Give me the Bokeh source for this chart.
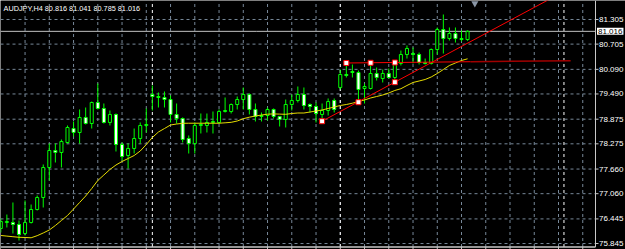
from bokeh.plotting import figure
from bokeh.models import Range1d, Label
from bokeh.embed import file_html
from bokeh.resources import INLINE
from bokeh.core.properties import value

# ---------------- data ----------------
chart_title = "AUDJPY,H4 80.816 81.041 80.785 81.016"

opens = [76.211, 76.357, 76.357, 76.309, 76.089, 76.357, 76.674, 76.967, 77.698, 78.112,
         78.064, 78.307, 78.648, 78.551, 78.917, 78.770, 79.282, 79.136, 78.795, 78.990,
         78.258, 77.990, 78.161, 78.405, 78.722, 79.477, 79.428, 79.404, 79.355, 78.990,
         78.892, 78.405, 78.283, 78.722, 78.722, 78.795, 78.795, 79.063, 79.063, 79.233,
         79.355, 79.477, 79.112, 78.941, 78.965, 79.112, 78.941, 78.868, 79.233, 79.331,
         79.477, 79.233, 79.185, 78.990, 79.087, 79.331, 79.648, 79.965, 80.038, 80.013,
         79.623, 79.623, 79.989, 79.867, 79.989, 79.891, 80.233, 80.452, 80.476, 80.452,
         80.257, 80.233, 80.574, 81.061, 80.842, 80.964, 80.842, 80.816]
highs = [76.455, 76.552, 76.845, 76.406, 76.894, 76.796, 77.016, 77.771, 78.283, 78.283,
         78.380, 78.722, 78.819, 79.112, 79.160, 79.306, 79.745, 79.258, 79.087, 79.014,
         78.307, 78.283, 78.648, 78.795, 79.136, 79.696, 79.526, 79.550, 79.453, 79.258,
         78.917, 78.478, 78.795, 79.014, 79.014, 79.063, 79.112, 79.404, 79.258, 79.428,
         79.648, 79.501, 79.258, 79.038, 79.160, 79.136, 78.941, 79.355, 79.477, 79.672,
         79.648, 79.258, 79.282, 79.258, 79.380, 79.380, 80.086, 80.245, 80.208, 80.062,
         79.745, 80.250, 80.135, 80.086, 80.111, 80.257, 80.549, 80.671, 80.623, 80.501,
         80.354, 80.598, 81.110, 81.427, 81.110, 81.110, 81.037, 81.041]
lows = [76.114, 76.236, 76.089, 75.919, 76.041, 76.333, 76.650, 76.723, 77.381, 77.820,
        77.698, 78.283, 78.453, 78.283, 78.746, 78.648, 79.112, 78.770, 78.722, 78.088,
        77.869, 77.674, 78.039, 78.283, 78.551, 79.087, 79.160, 79.160, 78.795, 78.770,
        78.307, 78.039, 78.039, 78.527, 78.551, 78.527, 78.770, 79.038, 79.014, 79.112,
        79.112, 78.990, 78.819, 78.819, 78.843, 78.892, 78.697, 78.673, 79.087, 79.282,
        79.112, 79.038, 78.795, 78.826, 78.965, 79.038, 79.599, 79.891, 79.891, 79.289,
        79.258, 79.599, 79.818, 79.770, 79.867, 79.777, 80.184, 80.354, 80.233, 80.208,
        80.208, 80.208, 80.452, 80.476, 80.793, 80.744, 80.769, 80.785]
closes = [76.382, 76.382, 76.309, 76.065, 76.357, 76.674, 76.967, 77.698, 78.112, 78.064,
          78.332, 78.673, 78.551, 78.917, 78.770, 79.282, 79.136, 78.795, 78.990, 78.258,
          77.966, 78.161, 78.405, 78.722, 78.746, 79.428, 79.404, 79.355, 78.990, 78.892,
          78.380, 78.283, 78.722, 78.746, 78.795, 78.819, 79.063, 79.087, 79.233, 79.355,
          79.477, 79.112, 78.941, 78.965, 79.112, 78.941, 78.868, 79.233, 79.331, 79.477,
          79.209, 79.185, 79.014, 79.087, 79.306, 79.112, 79.965, 79.940, 80.013, 79.599,
          79.672, 79.989, 79.891, 79.989, 79.891, 80.240, 80.452, 80.598, 80.452, 80.257,
          80.233, 80.574, 81.061, 80.842, 80.964, 80.842, 80.816, 81.016]
ma_values = [76.041, 76.026, 76.011, 75.997, 75.992, 75.985, 76.036, 76.102, 76.175, 76.284,
             76.406, 76.528, 76.686, 76.845, 77.003, 77.186, 77.381, 77.515, 77.649, 77.759,
             77.844, 77.917, 77.990, 78.100, 78.258, 78.429, 78.563, 78.648, 78.734, 78.758,
             78.775, 78.777, 78.777, 78.777, 78.777, 78.777, 78.777, 78.787, 78.799, 78.831,
             78.887, 78.924, 78.953, 78.977, 78.997, 79.004, 78.999, 78.994, 79.014, 79.026,
             79.026, 79.050, 79.075, 79.099, 79.136, 79.172, 79.209, 79.233, 79.265, 79.306,
             79.343, 79.392, 79.428, 79.465, 79.514, 79.575, 79.618, 79.696, 79.770, 79.806,
             79.843, 79.904, 79.989, 80.086, 80.184, 80.245, 80.306, 80.347]
bar_index = list(range(len(opens)))

price_ticks = [81.305, 80.705, 80.090, 79.490, 78.875, 78.275, 77.660, 77.060, 76.445, 75.845]
price_labels = ["81.305", "80.705", "80.090", "79.490", "78.875", "78.275", "77.660", "77.060", "76.445", "75.845"]
bid_price = 81.016
bid_label = "81.016"

trend_idx = [53, 59, 65]
trend_px = [78.826, 79.289, 79.777]
level_idx = [57, 61, 65]
level_px = [80.245, 80.250, 80.257]
week_sep_idx = [25, 56, 92.9]
grid_every = 4
shift_marker_idx = 78.2

# ---------------- layout ----------------
W, H = 625, 249
BAR_PX = 6.062                      # pixels per bar
PPX = 0.024372                      # price per pixel
X0 = -0.05
X1 = X0 + W / BAR_PX
Y1 = 81.768
Y0 = Y1 - H * PPX
PLOT_RIGHT = X0 + 595 / BAR_PX      # right edge of the price area
PLOT_BOTTOM = Y1 - 246.5 * PPX      # bottom edge of the price area

p = figure(width=W, height=H, output_backend="svg", toolbar_location=None,
           x_range=Range1d(X0, X1), y_range=Range1d(Y0, Y1),
           x_axis_location=None, y_axis_location=None,
           min_border_left=0, min_border_top=0, min_border_bottom=0, min_border_right=0,
           background_fill_color="black", border_fill_color="black")
p.outline_line_color = None
p.grid.visible = False

grid_col = "#778899"
border_col = "#c8c8c8"
vticks = list(range(grid_every, int(PLOT_RIGHT) + 1, grid_every))

# grid
p.segment(x0=[X0] * len(price_ticks), x1=[PLOT_RIGHT] * len(price_ticks), y0=price_ticks, y1=price_ticks,
          line_color=grid_col, line_dash="3 3", line_width=1)
p.segment(x0=vticks, x1=vticks, y0=[PLOT_BOTTOM] * len(vticks), y1=[Y1] * len(vticks),
          line_color=grid_col, line_dash="3 3", line_width=1)
# week separators
p.segment(x0=week_sep_idx, x1=week_sep_idx, y0=[PLOT_BOTTOM] * len(week_sep_idx), y1=[Y1] * len(week_sep_idx),
          line_color="white", line_dash="3 3", line_width=1)
# borders and ticks
p.line([PLOT_RIGHT, PLOT_RIGHT], [PLOT_BOTTOM, Y1], line_color=border_col, line_width=1)
p.line([X0, PLOT_RIGHT], [PLOT_BOTTOM, PLOT_BOTTOM], line_color=border_col, line_width=1.5)
p.segment(x0=[PLOT_RIGHT] * len(price_ticks), x1=[PLOT_RIGHT + 3 / BAR_PX] * len(price_ticks),
          y0=price_ticks, y1=price_ticks, line_color=border_col, line_width=1)
p.segment(x0=vticks, x1=vticks, y0=[PLOT_BOTTOM] * len(vticks), y1=[Y0] * len(vticks),
          line_color=border_col, line_width=1)

# bid line
p.line([X0, PLOT_RIGHT], [bid_price, bid_price], line_color="#c0c0c0", line_width=1)

# candles
tops = [max(o, c) for o, c in zip(opens, closes)]
bots = [min(o, c) for o, c in zip(opens, closes)]
fills = ["black" if c >= o else "white" for o, c in zip(opens, closes)]
p.segment(x0=bar_index, y0=lows, x1=bar_index, y1=highs, line_color="#00ff00", line_width=1)
p.vbar(x=bar_index, top=tops, bottom=bots, width=0.5, fill_color=fills, line_color="#00ff00", line_width=1)

# moving average
p.line(bar_index, ma_values, line_color="#e6dc00", line_width=1)

# trend line through anchors
slope_t = (trend_px[-1] - trend_px[0]) / (trend_idx[-1] - trend_idx[0])
t_end = 92
p.line([trend_idx[0], t_end], [trend_px[0], trend_px[0] + slope_t * (t_end - trend_idx[0])],
       line_color="#ff0000", line_width=1)

# level line
slope_l = (level_px[-1] - level_px[0]) / (level_idx[-1] - level_idx[0])
l_mid, l_end = 77.5, 94
y_mid = level_px[0] + slope_l * (l_mid - level_idx[0])
p.line([level_idx[0], l_mid], [level_px[0], y_mid], line_color="#ff0000", line_width=1)
p.line([l_mid, l_end], [y_mid, level_px[0] + slope_l * (l_end - level_idx[0])],
       line_color="#a00000", line_width=1.5)

p.scatter(trend_idx + level_idx, trend_px + level_px, marker="square", size=5,
          fill_color="white", line_color="#ff0000", line_width=1)

p.scatter([shift_marker_idx], [Y1 - 0.07], marker="inverted_triangle", size=7,
          fill_color="#8a96a6", line_color=None)

# price axis labels
p.text(x=[PLOT_RIGHT + 3.5 / BAR_PX] * len(price_ticks), y=price_ticks, text=price_labels,
       text_color="white", text_font=value("Liberation Sans"), text_font_size="8px",
       text_align="left", text_baseline="middle")

# bid box
p.add_layout(Label(x=PLOT_RIGHT + 1.5 / BAR_PX, y=bid_price, text=bid_label, text_color="black",
                   text_font="Liberation Sans", text_font_size="8px", text_baseline="middle",
                   background_fill_color="white", padding=1))

# title
p.add_layout(Label(x=0.45, y=Y1 - 0.08, text=chart_title, text_color="white",
                   text_font="Liberation Sans", text_font_size="7.3px", text_baseline="top"))

open("out.html", "w").write(file_html(p, INLINE))
